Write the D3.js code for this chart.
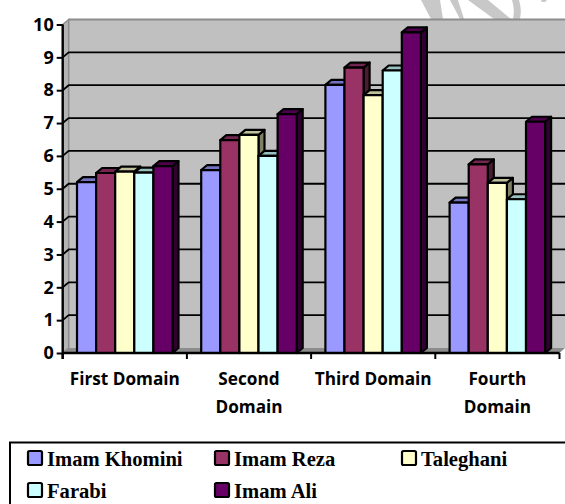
<!DOCTYPE html>
<html><head><meta charset="utf-8">
<script src="https://cdn.jsdelivr.net/npm/d3@7/dist/d3.min.js"></script>
<style>html,body{margin:0;padding:0;background:#fff}svg{display:block}</style>
</head><body><svg id="c" width="565" height="504"></svg>
<script>
const categories = ["First Domain", "Second Domain", "Third Domain", "Fourth Domain"];
const categoryLines = [["First Domain"], ["Second", "Domain"], ["Third Domain"], ["Fourth", "Domain"]];
const seriesNames = ["Imam Khomini", "Imam Reza", "Taleghani", "Farabi", "Imam Ali"];
const imamKhomini = [5.2, 5.57, 8.16, 4.58];
const imamReza = [5.48, 6.48, 8.69, 5.74];
const taleghani = [5.52, 6.64, 7.85, 5.18];
const farabi = [5.49, 6.0, 8.6, 4.68];
const imamAli = [5.69, 7.27, 9.76, 7.04];
const seriesValues = [imamKhomini, imamReza, taleghani, farabi, imamAli];
const fronts = ["#9999ff", "#993366", "#ffffcc", "#ccffff", "#660066"];
const tops = ["#7373bf", "#732650", "#bfbf99", "#99bfbf", "#4d004d"];
const sides = ["#4d4d80", "#4d1a33", "#808066", "#668080", "#330033"];
const yTicks = [0,1,2,3,4,5,6,7,8,9,10];

const svg = d3.select("#c");
const W = 6, H = 5; // 3D depth offsets
const y = d3.scaleLinear().domain([0,10]).range([353,24.5]);
const x0 = d3.scaleBand().domain(categories).range([62.7,559.5]);
const x1 = d3.scaleBand().domain(seriesNames).range([14.3,109.8]);
const poly = (pts,fill,sw=2.2)=>svg.append("path").attr("d","M"+pts.map(p=>p.join(",")).join("L")+"Z")
  .attr("fill",fill).attr("stroke","#000").attr("stroke-width",sw).attr("stroke-linejoin","round");

// watermark fragment
const wm = svg.append("g").attr("fill","#c8c8c8");
wm.append("path").attr("d","M421,0L440,0L443,19L431,19Z");
wm.append("path").attr("d","M450,0L458,0L464,19L460,19Z");
wm.append("path").attr("d","M468,0L488,0L511,19L494,19Z");
wm.append("path").attr("d","M512,0L519,0Q522,10 520,19L513,19Q515,10 512,0Z");
wm.append("path").attr("d","M541,0L547,0L545,2L542,2Z");

// walls
const xL = x0.range()[0], xE = x0.range()[1], xR = 565;
svg.append("path").attr("d",`M${xL},${y(0)}L${xL},${y(10)}L${xL+W},${y(10)-H}L${xR},${y(10)-H}L${xR},${y(0)-H}L${xL},${y(0)}Z`).attr("fill","#c0c0c0");
svg.append("path").attr("d",`M${xL},${y(0)}L${xL},${y(10)}L${xL+W},${y(10)-H}L${xL+W},${y(0)-H}Z`).attr("fill","#b4b4b4").attr("stroke","#8c8c8c").attr("stroke-width",1.5);
svg.append("path").attr("d",`M${xL},${y(0)}L${xL+W},${y(0)-H}L${xR},${y(0)-H}L${xE},${y(0)}Z`).attr("fill","#8c8c8c");
svg.append("path").attr("d",`M${xL+W},${y(10)-H}H${xR}`).attr("stroke","#8c8c8c").attr("stroke-width",2).attr("fill","none");

// gridlines
svg.append("g").selectAll("path").data(yTicks.filter(d=>d>0&&d<10)).join("path")
  .attr("d",d=>`M${xL},${y(d)}L${xL+W},${y(d)-H}H${xR}`)
  .attr("fill","none").attr("stroke","#000").attr("stroke-width",1.8);

// bars
categories.forEach((c,ci)=>{
  seriesNames.forEach((s,si)=>{
    const v = seriesValues[si][ci];
    const a = x0(c)+x1(s), b = a+x1.bandwidth(), t = y(v), g = y(0);
    poly([[b,t],[b+W,t-H],[b+W,g-H],[b,g]], sides[si]);
    poly([[a,t],[a+W,t-H],[b+W,t-H],[b,t]], tops[si]);
    poly([[a,t],[b,t],[b,g],[a,g]], fronts[si]);
  });
});

// axes
const font = "'Open Sans','Noto Sans',sans-serif";
const yAxis = d3.axisLeft(y).tickValues(yTicks).tickSize(6).tickPadding(3).tickFormat(d3.format("d"));
const gy = svg.append("g").attr("transform",`translate(${xL},0)`).call(yAxis);
gy.select(".domain").attr("stroke-width",2.4).attr("stroke","#000").attr("d",`M0,${y(10)}V${y(0)+6}`);
gy.selectAll(".tick line").attr("stroke","#000").attr("stroke-width",2);
gy.selectAll("text").attr("font-family",font).attr("font-weight",700).attr("font-size",18).attr("fill","#000");
const gx = svg.append("g");
gx.append("path").attr("d",`M${xL},${y(0)}H${xE}`).attr("stroke","#000").attr("stroke-width",2.6);
gx.selectAll("line").data(d3.range(5)).join("line")
  .attr("x1",i=>xL+i*x0.step()).attr("x2",i=>xL+i*x0.step()).attr("y1",y(0)).attr("y2",y(0)+6)
  .attr("stroke","#000").attr("stroke-width",2);
categories.forEach((c,ci)=>{
  categoryLines[ci].forEach((l,li)=>{
    svg.append("text").attr("x",x0(c)+x0.bandwidth()/2).attr("y",385+li*28).attr("text-anchor","middle")
      .attr("font-family",font).attr("font-weight",700).attr("font-size",17.2).attr("fill","#000").text(l);
  });
});

// legend
svg.append("rect").attr("x",10).attr("y",442.5).attr("width",600).attr("height",100).attr("fill","#fff").attr("stroke","#000").attr("stroke-width",2);
const lx = [28,215,402], ly=[458,490];
seriesNames.forEach((s,i)=>{
  const cx = lx[i%3], cy = ly[Math.floor(i/3)];
  svg.append("rect").attr("x",cx).attr("y",cy-7).attr("width",14).attr("height",14).attr("rx",1.5).attr("fill",fronts[i]).attr("stroke","#000").attr("stroke-width",2.2);
  svg.append("text").attr("x",cx+19).attr("y",cy+8).attr("font-family","'Liberation Serif',serif").attr("font-weight",700).attr("font-size",20.6).attr("fill","#000").text(s);
});
</script></body></html>
